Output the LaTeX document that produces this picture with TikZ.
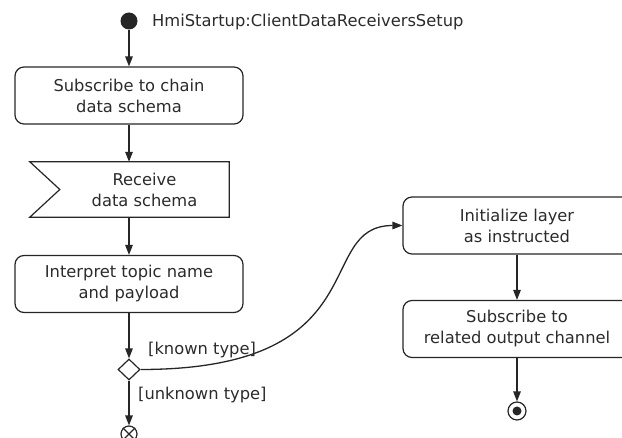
\documentclass[tikz,border=0pt]{standalone}
\usepackage{fontspec}
\setmainfont{DejaVu Sans}
\usetikzlibrary{shapes.geometric,arrows.meta}
\definecolor{ink}{HTML}{262626}
\definecolor{txt}{HTML}{2B2B2B}
\tikzset{
  every node/.style={font=\fontsize{16.3}{21}\selectfont, text=txt},
  action/.style={draw=ink, line width=1.2pt, rounded corners=9pt,
    minimum width=228pt, minimum height=57pt, align=center, inner sep=0pt},
  flow/.style={draw=ink, line width=1.3pt, -{Triangle[length=10pt,width=7.5pt]}},
  guard/.style={anchor=west, inner sep=0pt},
}
\begin{document}
\begin{tikzpicture}[x=1pt, y=-1pt]
\useasboundingbox (0,0) rectangle (622,438);
\clip (0,0) rectangle (622,438);

% initial node and activity name
\node[circle, fill=ink, minimum size=17pt, inner sep=0pt] (start) at (129,21) {};
\node[anchor=west, inner sep=0pt] (title) at (152,22) {HmiStartup:ClientDataReceiversSetup};

% left column
\node[action] (sub) at (129,95.5) {Subscribe to chain\\data schema};
\node[minimum width=169pt, minimum height=55pt, inner sep=0pt, align=center] (recv) at (144.5,189.5) {Receive\\data schema};
\draw[ink, line width=1.2pt] ([xshift=-30pt]recv.north west) -- (recv.north east) -- (recv.south east)
  -- ([xshift=-30pt]recv.south west) -- (recv.west) -- cycle;
\node[action] (interp) at (129,284) {Interpret topic name\\and payload};
\node[diamond, draw=ink, line width=1.2pt, fill=white, minimum width=22pt, minimum height=21pt, inner sep=0pt] (dec) at (129,369.5) {};
\node[circle, draw=ink, line width=1.2pt, minimum size=16pt, inner sep=0pt] (ff) at (129,434) {};
\draw[ink, line width=1.2pt] (ff.north east) -- (ff.south west) (ff.north west) -- (ff.south east);

% right column
\node[action] (init) at (517,225.5) {Initialize layer\\as instructed};
\node[action] (out) at (517,329) {Subscribe to\\related output channel};
\node[circle, draw=ink, line width=1.2pt, minimum size=18pt, inner sep=0pt] (end) at (517,411) {};
\fill[ink] (end.center) circle (4.5pt);

% connectors
\draw[flow] (start) -- (sub.north);
\draw[flow] (sub.south) -- (sub.south |- recv.north);
\draw[flow] (sub.south |- recv.south) -- (interp.north);
\draw[flow] (interp.south) -- (dec.north);
\draw[flow] (dec.south) -- (ff.north);
\draw[flow] (dec.east) .. controls +(240,0) and +(-90,0) .. (init.west);
\draw[flow] (init.south) -- (out.north);
\draw[flow] (out.south) -- (end.north);

% guards
\node[guard] (known) at (148,350) {[known type]};
\node[guard] (unknown) at (138,395.5) {[unknown type]};
\end{tikzpicture}
\end{document}
